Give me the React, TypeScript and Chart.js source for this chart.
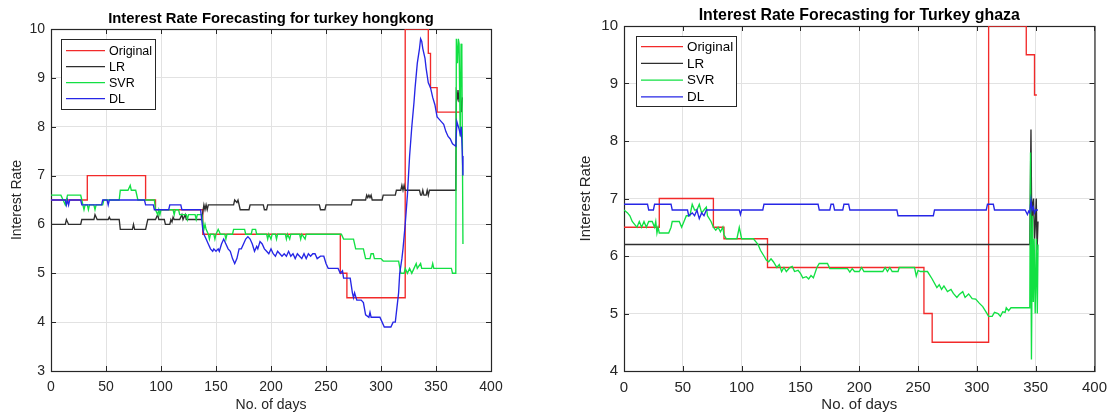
import { useEffect, useRef } from "react";
import { Chart, registerables } from "chart.js";

Chart.register(...registerables);

type P = [number, number];

// ---------- Data: Turkey / Hong Kong (left panel) ----------
const hkOriginal: P[] = [[0,6.5],[33,7.0],[86,6.5],[95,6.3],[138,5.8],[263,5.0],[269,4.5],[322,10.0],[343,9.5],[345,8.8],[351,8.3],[373,8.3]];

const hkLR: P[] = [[0,6.0],[13,6.0],[14,6.1],[16,6.0],[27,6.0],[28,6.1],[39,6.1],[40,6.2],[42,6.1],[52,6.1],[53,6.15],[54,6.1],[62,6.1],[63,5.9],[74,5.9],[75,6.0],[76,5.9],[86,5.9],[87,6.0],[88,6.1],[95,6.1],[97,6.2],[98,6.1],[103,6.1],[104,6.0],[108,6.0],[109,6.1],[110,6.05],[111,6.15],[112,6.1],[117,6.1],[119,6.2],[120,6.1],[122,6.2],[123,6.1],[137,6.1],[139,6.4],[140,6.3],[141,6.4],[142,6.3],[143,6.4],[166,6.4],[167,6.5],[169,6.45],[170,6.5],[171,6.4],[172,6.3],[180,6.3],[181,6.4],[193,6.4],[194,6.3],[196,6.3],[197,6.4],[244,6.4],[245,6.3],[249,6.3],[250,6.4],[273,6.4],[274,6.5],[286,6.5],[287,6.6],[288,6.55],[289,6.6],[290,6.55],[291,6.6],[292,6.5],[301,6.5],[302,6.6],[313,6.6],[314,6.7],[318,6.7],[319,6.8],[320,6.7],[321,6.8],[322,6.7],[335,6.7],[336,6.6],[337,6.6],[338,6.7],[339,6.6],[341,6.6],[342,6.7],[343,6.6],[344,6.7],[368,6.7],[368.5,8.7],[369.5,8.6],[370,8.75],[371,8.5],[372,8.75],[373,8.3],[374,8.6]];

const hkSVR: P[] = [[0,6.6],[9,6.6],[11,6.5],[13,6.4],[14,6.5],[15,6.6],[27,6.6],[28,6.5],[29,6.4],[30,6.3],[31,6.4],[33,6.4],[34,6.3],[35,6.4],[39,6.4],[40,6.3],[41,6.4],[47,6.4],[48,6.5],[62,6.5],[63,6.7],[70,6.7],[72,6.8],[73,6.7],[77,6.7],[79,6.5],[94,6.5],[95,6.3],[97,6.2],[98,6.3],[99,6.2],[100,6.3],[111,6.3],[112,6.2],[113,6.3],[116,6.3],[117,6.2],[123,6.2],[124,6.1],[125,6.2],[131,6.2],[132,6.1],[133,6.2],[137,6.2],[139,5.9],[140,6.0],[141,5.9],[143,5.8],[144,5.7],[145,5.8],[148,5.8],[149,5.7],[150,5.8],[152,5.9],[154,5.8],[158,5.8],[159,5.7],[160,5.8],[165,5.8],[166,5.9],[176,5.9],[177,5.8],[182,5.8],[183,5.9],[186,5.9],[187,5.8],[196,5.8],[197,5.7],[198,5.8],[200,5.7],[201,5.8],[204,5.8],[205,5.7],[206,5.8],[213,5.8],[214,5.7],[215,5.8],[217,5.7],[218,5.8],[226,5.8],[227,5.7],[228,5.8],[231,5.7],[232,5.8],[264,5.8],[266,5.7],[275,5.7],[277,5.5],[284,5.5],[286,5.3],[290,5.3],[291,5.4],[293,5.4],[294,5.3],[300,5.3],[302,5.25],[316,5.25],[318,5.0],[321,5.0],[322,5.1],[324,5.0],[326,5.1],[328,5.0],[330,5.1],[332,5.2],[333,5.1],[336,5.2],[337,5.1],[346,5.1],[347,5.2],[348,5.1],[364,5.1],[365,5.0],[368,5.0],[368.5,9.8],[369.5,9.3],[370.3,9.8],[371,9.7],[372,7.8],[372.8,9.7],[373.5,9.5],[374.5,5.6]];

const hkDL: P[] = [[0,6.5],[13,6.5],[14,6.4],[15,6.5],[16,6.4],[17,6.5],[27,6.5],[28,6.4],[46,6.4],[47,6.5],[51,6.5],[52,6.4],[53,6.5],[85,6.5],[86,6.4],[93,6.4],[94,6.3],[107,6.3],[108,6.4],[118,6.4],[119,6.3],[136,6.3],[137,6.1],[138,5.9],[139,5.8],[141,5.7],[143,5.6],[145,5.5],[147,5.45],[148,5.5],[150,5.45],[152,5.5],[153,5.45],[155,5.6],[157,5.7],[159,5.6],[161,5.5],[163,5.45],[165,5.3],[167,5.2],[169,5.3],[171,5.5],[173,5.5],[175,5.6],[177,5.7],[179,5.75],[181,5.7],[183,5.6],[185,5.45],[187,5.55],[188,5.5],[190,5.65],[192,5.6],[194,5.5],[196,5.45],[198,5.4],[200,5.5],[202,5.4],[204,5.35],[206,5.45],[208,5.4],[210,5.35],[212,5.4],[214,5.35],[216,5.45],[218,5.35],[220,5.4],[222,5.3],[224,5.4],[226,5.35],[228,5.3],[230,5.4],[232,5.3],[234,5.4],[236,5.35],[238,5.4],[240,5.4],[242,5.3],[245,5.35],[248,5.35],[250,5.2],[252,5.1],[261,5.1],[263,5.0],[265,5.05],[266,4.9],[272,4.9],[274,4.6],[275,4.5],[276,4.6],[278,4.45],[282,4.45],[284,4.4],[286,4.15],[289,4.1],[290,4.2],[291,4.1],[299,4.1],[301,4.0],[303,3.9],[309,3.9],[311,4.0],[313,4.0],[314,4.2],[316,4.6],[317,5.0],[319,5.3],[320,5.5],[322,6.0],[324,6.6],[326,7.4],[328,8.0],[330,8.5],[331,8.8],[333,9.3],[335,9.6],[336,9.8],[337,9.75],[338,9.6],[340,9.4],[341,9.2],[343,8.9],[345,8.8],[347,8.6],[349,8.45],[351,8.2],[353,8.15],[355,8.1],[357,8.05],[359,7.9],[361,7.8],[363,7.75],[365,7.65],[368,7.6],[369,8.1],[371,7.95],[372,7.85],[373,8.0],[374,7.4],[374.5,7.0]];

// ---------- Data: Turkey / Ghaza (right panel) ----------
const gzOriginal: P[] = [[0,6.5],[30,7.0],[76,6.5],[85,6.3],[122,5.8],[255,5.0],[262,4.5],[310,10.0],[342,9.5],[349,8.8],[351,8.8]];

const gzLR: P[] = [[0,6.2],[345,6.2],[346,8.2],[346.8,6.2],[347.4,6.9],[348.2,7.0],[349,6.3],[349.6,6.5],[350.5,7.0],[351.2,6.1],[352,6.6]];

const gzSVR: P[] = [[0,6.8],[3,6.75],[5,6.7],[7,6.6],[9,6.55],[11,6.5],[13,6.6],[15,6.5],[17,6.6],[19,6.5],[21,6.6],[24,6.6],[26,6.5],[27,6.6],[28,6.4],[29,6.5],[30,6.4],[38,6.4],[40,6.5],[41,6.6],[47,6.6],[49,6.5],[51,6.6],[53,6.7],[56,6.7],[58,6.9],[60,6.8],[62,6.8],[64,6.9],[66,6.75],[68,6.8],[70,6.85],[71,6.7],[74,6.6],[76,6.5],[78,6.45],[80,6.5],[82,6.42],[84,6.5],[85,6.37],[87,6.3],[96,6.3],[98,6.5],[100,6.3],[110,6.3],[112,6.25],[114,6.2],[116,6.1],[119,6.0],[121,5.93],[123,5.9],[125,5.95],[127,5.9],[130,5.8],[132,5.85],[134,5.73],[136,5.8],[138,5.73],[141,5.8],[143,5.82],[145,5.73],[148,5.75],[150,5.7],[152,5.62],[155,5.64],[157,5.6],[159,5.66],[161,5.62],[164,5.8],[166,5.87],[173,5.87],[175,5.78],[190,5.78],[192,5.72],[194,5.78],[196,5.73],[200,5.73],[202,5.8],[204,5.73],[220,5.73],[222,5.8],[224,5.73],[226,5.8],[228,5.73],[233,5.73],[234,5.8],[247,5.8],[248.5,5.65],[250,5.75],[252,5.73],[258,5.73],[262,5.6],[266,5.45],[268,5.5],[270,5.42],[272,5.48],[275,5.38],[278,5.42],[280,5.35],[283,5.28],[285,5.33],[288,5.38],[290,5.28],[293,5.34],[296,5.26],[299,5.25],[302,5.18],[305,5.12],[308,5.02],[310,4.95],[313,4.95],[315,5.02],[318,5.0],[320,4.95],[322,5.03],[324,5.02],[325,5.1],[327,5.05],[329,5.1],[345,5.1],[345.6,7.8],[346.4,4.2],[347.3,6.7],[348,5.2],[348.7,6.3],[349.6,5.0],[350.6,6.3],[351.4,5.0],[352,6.2]];

const gzDL: P[] = [[0,6.9],[20,6.9],[21,6.8],[25,6.8],[26,6.9],[40,6.9],[41,6.8],[54,6.8],[55,6.7],[58,6.75],[60,6.7],[62,6.8],[64,6.65],[66,6.75],[68,6.7],[70,6.8],[98,6.8],[99,6.72],[100,6.8],[118,6.8],[119,6.9],[165,6.9],[166,6.8],[175,6.8],[176,6.9],[178,6.9],[179,6.8],[186,6.8],[187,6.9],[191,6.9],[192,6.8],[232,6.8],[233,6.7],[263,6.7],[264,6.8],[308,6.8],[309,6.9],[314,6.9],[315,6.8],[341,6.8],[343,6.72],[344,6.78],[345,6.75],[346,6.97],[347,6.8],[348,6.85],[349,6.75],[350,6.8],[352,6.8]];

const seriesNames = ["Original", "LR", "SVR", "DL"];
const seriesColors = ["#f22a2a", "#2e2e2e", "#12e043", "#2626e6"];

const hkTitle = "Interest Rate Forecasting for turkey hongkong";
const gzTitle = "Interest Rate Forecasting for Turkey ghaza";
const xTitle = "No. of days";
const yTitle = "Interest Rate";

// ---------- Layout / style config ----------
type PanelCfg = {
  left: number; w: number;
  area: { l: number; r: number; t: number; b: number };
  yMin: number; yMax: number;
  title: string; titleSize: number; tickSize: number; legendSize: number;
  legend: { x: number; y: number; w: number; h: number; l0: number; l1: number; tx: number; r0: number; dr: number };
  yTitleX: number;
  series: P[][];
};

const AXIS = "#262626";
const GRID = "#e2e2e2";
const FONT = "'Liberation Sans', Arial, Helvetica, sans-serif";

const panels: PanelCfg[] = [
  {
    left: 0, w: 557,
    area: { l: 51, r: 491, t: 29, b: 371 },
    yMin: 3, yMax: 10,
    title: hkTitle, titleSize: 14.8, tickSize: 14, legendSize: 12.5,
    legend: { x: 61, y: 39, w: 94, h: 70, l0: 66, l1: 105, tx: 109, r0: 50.7, dr: 16 },
    yTitleX: 17.5,
    series: [hkOriginal, hkLR, hkSVR, hkDL],
  },
  {
    left: 557, w: 558,
    area: { l: 67, r: 541, t: 26, b: 371 },
    yMin: 4, yMax: 10,
    title: gzTitle, titleSize: 15.9, tickSize: 15, legendSize: 13.4,
    legend: { x: 79, y: 36, w: 100, h: 70, l0: 84, l1: 126, tx: 130, r0: 46.7, dr: 16.7 },
    yTitleX: 29,
    series: [gzOriginal, gzLR, gzSVR, gzDL],
  },
];

function makeFramePlugin(cfg: PanelCfg) {
  return {
    id: "matlabFrame",
    beforeDatasetsDraw(chart: any) {
      const { ctx, chartArea: a } = chart;
      const xs = chart.scales.x;
      const ys = chart.scales.y;
      ctx.save();
      ctx.strokeStyle = AXIS;
      ctx.lineWidth = 1;
      ctx.beginPath();
      const tl = 5;
      xs.ticks.forEach((t: any) => {
        const x = Math.round(xs.getPixelForValue(t.value)) + 0.5;
        ctx.moveTo(x, a.bottom); ctx.lineTo(x, a.bottom - tl);
        ctx.moveTo(x, a.top); ctx.lineTo(x, a.top + tl);
      });
      ys.ticks.forEach((t: any) => {
        const y = Math.round(ys.getPixelForValue(t.value)) + 0.5;
        ctx.moveTo(a.left, y); ctx.lineTo(a.left + tl, y);
        ctx.moveTo(a.right, y); ctx.lineTo(a.right - tl, y);
      });
      ctx.stroke();
      // box (below the data, as in the reference)
      ctx.lineWidth = 1.2;
      ctx.strokeRect(a.left + 0.5, a.top + 0.5, a.right - a.left, a.bottom - a.top);
      ctx.restore();
    },
    afterDatasetsDraw(chart: any) {
      const { ctx, chartArea: a } = chart;
      ctx.save();
      // title
      ctx.fillStyle = "#000";
      ctx.font = `bold ${cfg.titleSize}px ${FONT}`;
      ctx.textAlign = "center";
      ctx.textBaseline = "alphabetic";
      ctx.fillText(cfg.title, (a.left + a.right) / 2, a.top - 6.5);
      // axis titles
      ctx.fillStyle = AXIS;
      ctx.font = `${cfg.tickSize}px ${FONT}`;
      ctx.textBaseline = "middle";
      ctx.fillText(xTitle, (a.left + a.right) / 2, 405);
      ctx.save();
      ctx.translate(cfg.yTitleX, (a.top + a.bottom) / 2);
      ctx.rotate(-Math.PI / 2);
      ctx.fillText(yTitle, 0, 0);
      ctx.restore();
      // legend
      const L = cfg.legend;
      ctx.fillStyle = "#fff";
      ctx.fillRect(L.x, L.y, L.w, L.h);
      ctx.strokeStyle = AXIS;
      ctx.lineWidth = 1;
      ctx.strokeRect(L.x + 0.5, L.y + 0.5, L.w, L.h);
      ctx.font = `${cfg.legendSize}px ${FONT}`;
      ctx.textAlign = "left";
      ctx.textBaseline = "middle";
      seriesNames.forEach((name, i) => {
        const y = L.r0 + i * L.dr;
        ctx.strokeStyle = seriesColors[i];
        ctx.lineWidth = 1.3;
        ctx.beginPath();
        ctx.moveTo(L.l0, y);
        ctx.lineTo(L.l1, y);
        ctx.stroke();
        ctx.fillStyle = "#000";
        ctx.fillText(name, L.tx, y + 0.5);
      });
      ctx.restore();
    },
  };
}

function Panel({ cfg }: { cfg: PanelCfg }) {
  const ref = useRef<HTMLCanvasElement>(null);
  useEffect(() => {
    const canvas = ref.current;
    if (!canvas) return;
    const H = 415;
    const chart = new Chart(canvas, {
      type: "line",
      data: {
        datasets: cfg.series.map((pts, i) => ({
          label: seriesNames[i],
          data: pts.map(([x, y]) => ({ x, y })),
          borderColor: seriesColors[i],
          backgroundColor: seriesColors[i],
          borderWidth: 1.35,
          pointRadius: 0,
          pointHoverRadius: 0,
          fill: false,
          tension: 0,
          stepped: i === 0 ? "before" : false,
          order: 3 - i,
        })),
      },
      options: {
        animation: false,
        responsive: false,
        maintainAspectRatio: false,
        devicePixelRatio: 1,
        events: [],
        layout: {
          padding: { left: 0, top: cfg.area.t, right: cfg.w - cfg.area.r, bottom: 0 },
        },
        plugins: {
          legend: { display: false },
          title: { display: false },
          tooltip: { enabled: false },
        },
        scales: {
          x: {
            type: "linear",
            min: 0,
            max: 400,
            ticks: {
              stepSize: 50,
              color: AXIS,
              font: { size: cfg.tickSize, family: FONT },
              padding: 8,
              maxRotation: 0,
              autoSkip: false,
            },
            grid: { color: GRID, drawTicks: false, lineWidth: 1 },
            border: { display: false },
            afterFit: (s: any) => { s.height = H - cfg.area.b; },
          },
          y: {
            type: "linear",
            min: cfg.yMin,
            max: cfg.yMax,
            ticks: {
              stepSize: 1,
              color: AXIS,
              font: { size: cfg.tickSize, family: FONT },
              padding: 6,
              autoSkip: false,
            },
            grid: { color: GRID, drawTicks: false, lineWidth: 1 },
            border: { display: false },
            afterFit: (s: any) => { s.width = cfg.area.l; },
          },
        },
      },
      plugins: [makeFramePlugin(cfg)],
    } as any);
    return () => chart.destroy();
  }, [cfg]);
  return (
    <canvas
      ref={ref}
      width={cfg.w}
      height={415}
      style={{ position: "absolute", left: cfg.left, top: 0, width: cfg.w, height: 415 }}
    />
  );
}

export default function App() {
  return (
    <div style={{ position: "fixed", left: 0, top: 0, width: 1115, height: 415, background: "#fff" }}>
      {panels.map((p, i) => (
        <Panel key={i} cfg={p} />
      ))}
    </div>
  );
}
